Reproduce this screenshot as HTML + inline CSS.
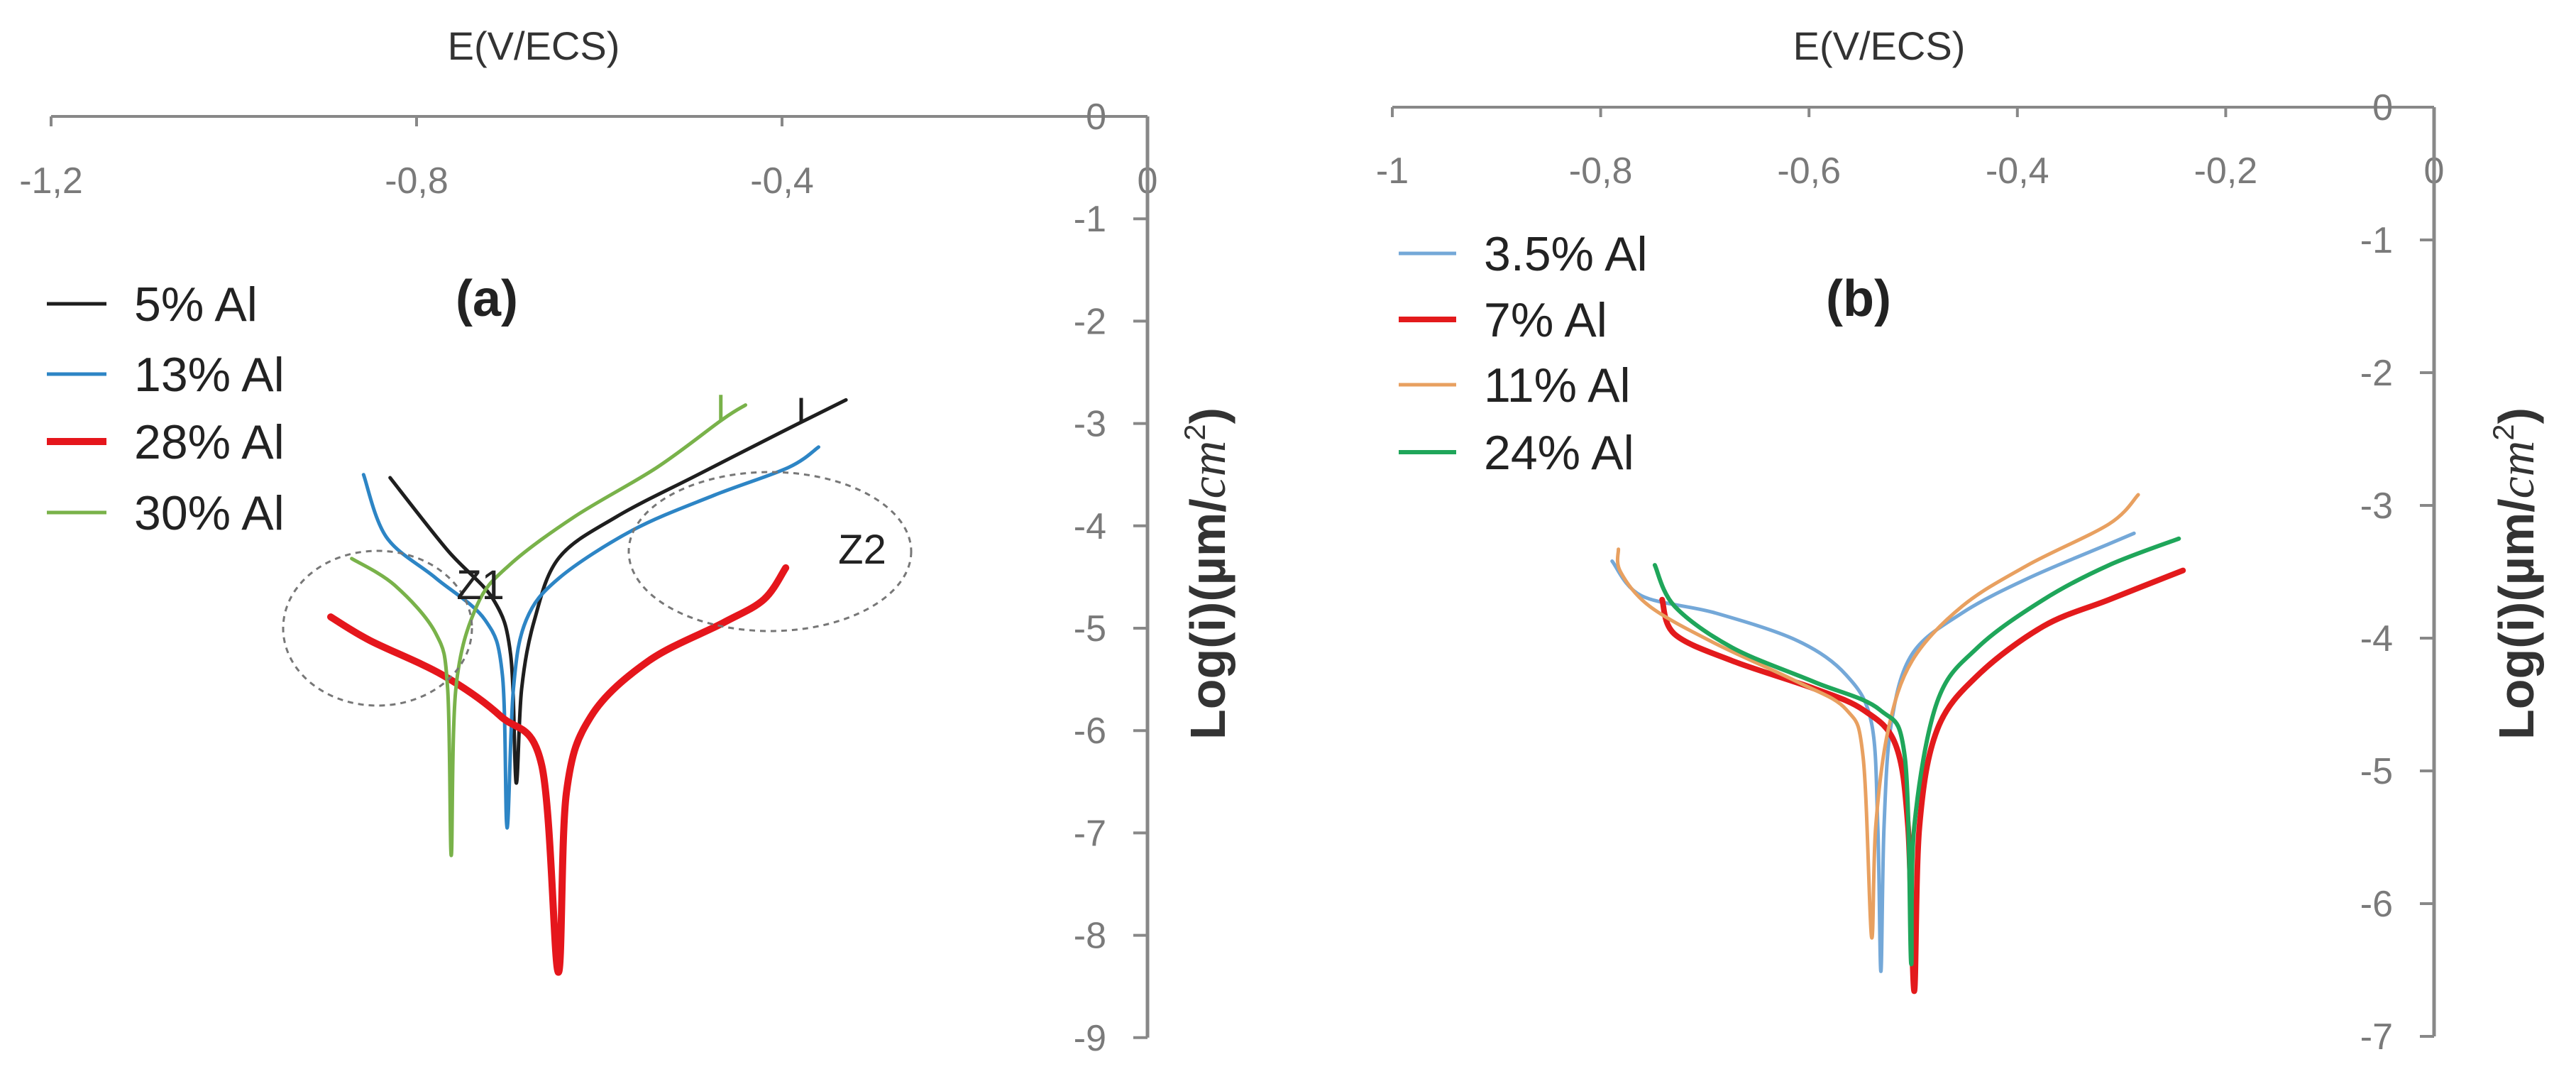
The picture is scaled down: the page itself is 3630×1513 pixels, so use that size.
<!DOCTYPE html>
<html><head><meta charset="utf-8">
<style>
html,body{margin:0;padding:0;background:#fff;}
svg{display:block;font-family:"Liberation Sans",Arial,sans-serif;}
.tick{fill:#7a7a7a;font-size:52px;}
.ttl{fill:#333;font-size:56px;}
.leg{fill:#222;font-size:68px;}
</style></head>
<body>
<svg id="chart" width="3630" height="1513" viewBox="0 0 3630 1513"></svg>
<script>
// ---- Panel (a) data ----
const aXTicks = [-1.2, -0.8, -0.4, 0];
const aXTickLabels = ["-1,2", "-0,8", "-0,4", "0"];
const aYTicks = [0, -1, -2, -3, -4, -5, -6, -7, -8, -9];
const aNames = ["5% Al", "13% Al", "28% Al", "30% Al"];
const a5E = [-0.829,-0.766,-0.716,-0.697,-0.691,-0.685,-0.671,-0.644,-0.581,-0.492,-0.402,-0.330];
const a5L = [-3.53,-4.24,-4.72,-5.26,-6.51,-5.59,-4.92,-4.31,-3.91,-3.50,-3.09,-2.77];
const a5TickE = [-0.379, -0.379];
const a5TickL = [-2.75, -2.98];
const a13E = [-0.858,-0.833,-0.779,-0.725,-0.706,-0.701,-0.694,-0.680,-0.644,-0.563,-0.474,-0.393,-0.360];
const a13L = [-3.50,-4.11,-4.51,-4.92,-5.46,-6.95,-5.59,-4.92,-4.51,-4.04,-3.70,-3.43,-3.23];
const a28E = [-0.894,-0.851,-0.771,-0.708,-0.663,-0.645,-0.636,-0.609,-0.546,-0.465,-0.420,-0.396];
const a28L = [-4.89,-5.12,-5.46,-5.86,-6.34,-8.36,-6.61,-5.86,-5.32,-4.95,-4.72,-4.41];
const a30E = [-0.871,-0.824,-0.779,-0.766,-0.762,-0.757,-0.734,-0.698,-0.627,-0.537,-0.465,-0.440];
const a30L = [-4.32,-4.58,-5.05,-5.59,-7.22,-5.59,-4.78,-4.38,-3.91,-3.43,-2.96,-2.82];
const a30TickE = [-0.467, -0.467];
const a30TickL = [-2.72, -2.97];
// ---- Panel (b) data ----
const bXTicks = [-1, -0.8, -0.6, -0.4, -0.2, 0];
const bXTickLabels = ["-1", "-0,8", "-0,6", "-0,4", "-0,2", "0"];
const bYTicks = [0, -1, -2, -3, -4, -5, -6, -7];
const bNames = ["3.5% Al", "7%  Al", "11% Al", "24% Al"];
const b35E = [-0.789,-0.761,-0.690,-0.611,-0.564,-0.540,-0.534,-0.531,-0.528,-0.521,-0.501,-0.453,-0.390,-0.312,-0.288];
const b35L = [-3.42,-3.68,-3.81,-4.02,-4.28,-4.64,-5.42,-6.51,-5.42,-4.64,-4.12,-3.81,-3.55,-3.29,-3.21];
const b7E = [-0.741,-0.729,-0.674,-0.595,-0.548,-0.517,-0.505,-0.499,-0.494,-0.477,-0.438,-0.375,-0.312,-0.241];
const b7L = [-3.71,-3.97,-4.17,-4.38,-4.54,-4.80,-5.42,-6.66,-5.42,-4.69,-4.28,-3.91,-3.71,-3.49];
const b11E = [-0.783,-0.781,-0.753,-0.690,-0.611,-0.564,-0.548,-0.540,-0.536,-0.524,-0.501,-0.453,-0.390,-0.312,-0.284];
const b11L = [-3.33,-3.50,-3.76,-4.04,-4.33,-4.54,-4.90,-6.25,-5.42,-4.69,-4.17,-3.76,-3.45,-3.14,-2.92];
const b24E = [-0.748,-0.729,-0.674,-0.595,-0.532,-0.508,-0.502,-0.499,-0.477,-0.438,-0.375,-0.312,-0.245];
const b24L = [-3.45,-3.76,-4.07,-4.33,-4.54,-4.90,-6.45,-5.42,-4.48,-4.07,-3.71,-3.45,-3.25];

const NS = "http://www.w3.org/2000/svg";
const svg = document.getElementById('chart');
function mk(tag, attrs, parent, text){
  const e = document.createElementNS(NS, tag);
  for (const k in attrs) e.setAttribute(k, attrs[k]);
  if (text !== undefined) e.textContent = text;
  (parent || svg).appendChild(e);
  return e;
}
function smoothPath(pts){
  let d = "M" + pts[0][0].toFixed(1) + "," + pts[0][1].toFixed(1);
  const t = 0.165;
  for (let i = 0; i < pts.length - 1; i++){
    const p0 = pts[i-1] || pts[i], p1 = pts[i], p2 = pts[i+1], p3 = pts[i+2] || p2;
    const c1 = [p1[0] + (p2[0]-p0[0])*t, p1[1] + (p2[1]-p0[1])*t];
    const c2 = [p2[0] - (p3[0]-p1[0])*t, p2[1] - (p3[1]-p1[1])*t];
    d += " C" + c1.map(v=>v.toFixed(1)).join(",") + " " + c2.map(v=>v.toFixed(1)).join(",") + " " + p2[0].toFixed(1) + "," + p2[1].toFixed(1);
  }
  return d;
}

function panel(cfg){
  const g = mk('g', {});
  
  
  const X = v => cfg.x0 + v * cfg.xs;
  const Y = v => cfg.y0 - v * cfg.ys;
  const xmin = cfg.xTicks[0];
  const xa = mk('line', {x1: X(xmin), y1: cfg.y0, x2: X(0), y2: cfg.y0, stroke: '#888', 'stroke-width': 4}, g);
  
  
  cfg.xTicks.forEach((v, i) => {
    const t = mk('line', {x1: X(v), y1: cfg.y0, x2: X(v), y2: cfg.y0 + 14, stroke: '#888', 'stroke-width': 4}, g);
    
    
    const l = mk('text', {x: X(v), y: cfg.xLabY, 'text-anchor': 'middle', class: 'tick'}, g, cfg.xLabels[i]);
    
    
  });
  const ymin = cfg.yTicks[cfg.yTicks.length - 1];
  const ya = mk('line', {x1: X(0), y1: Y(0), x2: X(0), y2: Y(ymin), stroke: '#888', 'stroke-width': 5}, g);
  
  
  cfg.yTicks.forEach(v => {
    const t = mk('line', {x1: X(0) - 20, y1: Y(v), x2: X(0), y2: Y(v), stroke: '#888', 'stroke-width': 4}, g);
    
    
    const l = mk('text', {x: X(0) - 58, y: Y(v) + 18, 'text-anchor': 'end', class: 'tick'}, g, String(v));
    
    
  });
  const xt = mk('text', {x: cfg.titleX, y: cfg.titleY, 'text-anchor': 'middle', class: 'ttl'}, g, 'E(V/ECS)');
  
  
  const yt = mk('text', {transform: `translate(${cfg.yTitleX},${cfg.yTitleY}) rotate(-90)`, 'text-anchor': 'middle', 'font-size': 70, 'font-weight': 'bold', fill: '#333'}, g);
  
  
  mk('tspan', {}, yt, 'Log(i)(µm/');
  mk('tspan', {'font-style': 'italic', 'font-family': 'Liberation Serif, serif', 'font-weight': 'normal'}, yt, 'cm');
  mk('tspan', {dy: -28, 'font-size': 42, 'font-weight': 'normal'}, yt, '2');
  mk('tspan', {dy: 28}, yt, ')');
  const pl = mk('text', {x: cfg.labX, y: cfg.labY, 'text-anchor': 'middle', 'font-size': 72, 'font-weight': 'bold', fill: '#222'}, g, cfg.label);
  
  
  cfg.series.forEach((s, i) => {
    const pts = s.E.map((e, k) => [X(e), Y(s.L[k])]);
    const p = mk('path', {d: smoothPath(pts), fill: 'none', stroke: s.color, 'stroke-width': s.w, 'stroke-linejoin': 'round', 'stroke-linecap': 'round'}, g);
    
    
    if (s.tE) {
      const tk = mk('line', {x1: X(s.tE[0]), y1: Y(s.tL[0]), x2: X(s.tE[1]), y2: Y(s.tL[1]), stroke: s.color, 'stroke-width': s.w}, g);
      
      
    }
    const ly = cfg.legY[i];
    const ll = mk('line', {x1: cfg.legX1, y1: ly, x2: cfg.legX2, y2: ly, stroke: s.color, 'stroke-width': s.w}, g);
    
    
    const lt = mk('text', {x: cfg.legTX, y: ly + 24, class: 'leg'}, g, cfg.names[i]);
    
    
  });
  return g;
}

const ga = panel({
  id: 'panel-a', label: '(a)', x0: 1617, xs: 1287.5, y0: 164, ys: 144.2,
  xTicks: aXTicks, xLabels: aXTickLabels, yTicks: aYTicks, names: aNames,
  titleX: 752, titleY: 84, xLabY: 272, yTitleX: 1726, yTitleY: 808, labX: 686, labY: 445,
  legX1: 66, legX2: 150, legTX: 189, legY: [428, 527, 622, 722],
  series: [
    {E: a5E, L: a5L, color: '#1e1e1e', w: 5, tE: a5TickE, tL: a5TickL},
    {E: a13E, L: a13L, color: '#2d85c5', w: 5},
    {E: a28E, L: a28L, color: '#e5161c', w: 10},
    {E: a30E, L: a30L, color: '#79b24a', w: 5, tE: a30TickE, tL: a30TickL}
  ]
});
const z1 = mk('ellipse', {cx: 532, cy: 885, rx: 133, ry: 109, fill: 'none', stroke: '#777', 'stroke-width': 3, 'stroke-dasharray': '8 7'}, ga);


const z2 = mk('ellipse', {cx: 1085, cy: 777, rx: 199, ry: 112, fill: 'none', stroke: '#777', 'stroke-width': 3, 'stroke-dasharray': '8 7'}, ga);


const z1t = mk('text', {x: 677, y: 844, 'text-anchor': 'middle', 'font-size': 58, fill: '#222'}, ga, 'Z1');


const z2t = mk('text', {x: 1215, y: 794, 'text-anchor': 'middle', 'font-size': 58, fill: '#222'}, ga, 'Z2');



panel({
  id: 'panel-b', label: '(b)', x0: 3430, xs: 1468, y0: 151, ys: 187,
  xTicks: bXTicks, xLabels: bXTickLabels, yTicks: bYTicks, names: bNames,
  titleX: 2648, titleY: 84, xLabY: 258, yTitleX: 3570, yTitleY: 808, labX: 2619, labY: 445,
  legX1: 1971, legX2: 2052, legTX: 2091, legY: [357, 450, 542, 637],
  series: [
    {E: b35E, L: b35L, color: '#74a8d8', w: 5},
    {E: b7E, L: b7L, color: '#e31a1c', w: 8},
    {E: b11E, L: b11L, color: '#e8a060', w: 5},
    {E: b24E, L: b24L, color: '#1fa65a', w: 6}
  ]
});
</script>
</body></html>
